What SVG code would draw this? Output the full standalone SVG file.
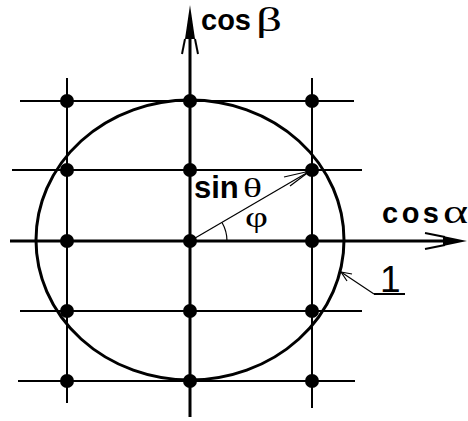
<svg xmlns="http://www.w3.org/2000/svg" width="468" height="421" viewBox="0 0 468 421">
<style>
.grid{stroke:#000;stroke-width:2;fill:none}
.axis{stroke:#000;stroke-width:3;fill:none}
.thin{stroke:#000;stroke-width:1.2;fill:none}
.dot{fill:#000}
.lbl{font-family:"Liberation Sans",Arial,sans-serif;font-weight:bold;fill:#000}
.gr{font-family:"Liberation Serif","Times New Roman",serif;font-weight:normal;fill:#000}
</style>
<rect width="468" height="421" fill="#fff"/>
<g id="grid">
<line class="grid" x1="20" y1="101" x2="354" y2="101"/>
<line class="grid" x1="12" y1="170" x2="362" y2="170"/>
<line class="grid" x1="20" y1="311" x2="362" y2="311"/>
<line class="grid" x1="18" y1="381" x2="355" y2="381"/>
<line class="grid" x1="67" y1="78" x2="67" y2="403"/>
<line class="grid" x1="312" y1="78" x2="312" y2="408"/>
</g>
<g id="circle-1">
<ellipse class="axis" cx="190" cy="240" rx="154" ry="140"/>
</g>
<g id="connectors">
<g id="axis-x">
<line class="axis" x1="10" y1="241" x2="448" y2="241"/>
<polygon points="443,236 467,241 443,246" fill="#000"/>
<line class="grid" x1="425" y1="233" x2="445" y2="237" stroke-width="3.5"/>
<line class="grid" x1="425" y1="249" x2="445" y2="245" stroke-width="3.5"/>
</g>
<g id="axis-y">
<line class="axis" x1="190" y1="417" x2="190" y2="30"/>
<polygon points="185,39 190,5 195,39" fill="#000"/>
<line class="grid" x1="182" y1="54" x2="185" y2="39" stroke-width="3.5"/>
<line class="grid" x1="198" y1="54" x2="195" y2="39" stroke-width="3.5"/>
</g>
<g id="radius">
<line class="thin" x1="190" y1="241" x2="310" y2="171"/>
<line class="thin" x1="310" y1="171" x2="284" y2="177"/>
<line class="thin" x1="310" y1="171" x2="290" y2="186"/>
<path class="thin" d="M227,241 A37,37 0 0 0 222,222.5"/>
</g>
<g id="leader-1">
<line class="thin" x1="341" y1="272" x2="374" y2="294"/>
<line class="grid" x1="374" y1="294" x2="405" y2="294"/>
<line class="thin" x1="341" y1="272" x2="352" y2="274"/>
<line class="thin" x1="341" y1="272" x2="347" y2="281"/>
</g>
</g>
<g id="dots">
<circle class="dot" cx="67" cy="101" r="7"/>
<circle class="dot" cx="190" cy="101" r="7"/>
<circle class="dot" cx="312" cy="101" r="7"/>
<circle class="dot" cx="67" cy="170" r="7"/>
<circle class="dot" cx="190" cy="170" r="7"/>
<circle class="dot" cx="312" cy="170" r="7"/>
<circle class="dot" cx="67" cy="241" r="7"/>
<circle class="dot" cx="190" cy="241" r="7"/>
<circle class="dot" cx="312" cy="241" r="7"/>
<circle class="dot" cx="67" cy="311" r="7"/>
<circle class="dot" cx="190" cy="311" r="7"/>
<circle class="dot" cx="312" cy="311" r="7"/>
<circle class="dot" cx="67" cy="381" r="7"/>
<circle class="dot" cx="190" cy="381" r="7"/>
<circle class="dot" cx="312" cy="381" r="7"/>
</g>
<g id="labels">
<text class="lbl" x="201" y="30" font-size="29">cos</text>
<text class="gr" x="256" y="31" font-size="33" textLength="26" lengthAdjust="spacingAndGlyphs">β</text>
<text class="lbl" x="382" y="223" font-size="29" letter-spacing="3.5">cos</text>
<text class="gr" x="443" y="223" font-size="34" textLength="25" lengthAdjust="spacingAndGlyphs">α</text>
<text class="lbl" x="194" y="198" font-size="31">sin</text>
<text class="gr" x="243" y="197" font-size="28" textLength="19" lengthAdjust="spacingAndGlyphs">θ</text>
<text class="gr" x="245" y="227" font-size="30" textLength="23" lengthAdjust="spacingAndGlyphs">φ</text>
<text x="380" y="292" font-family="Liberation Sans, Arial, sans-serif" font-size="37">1</text>
</g>
</svg>
